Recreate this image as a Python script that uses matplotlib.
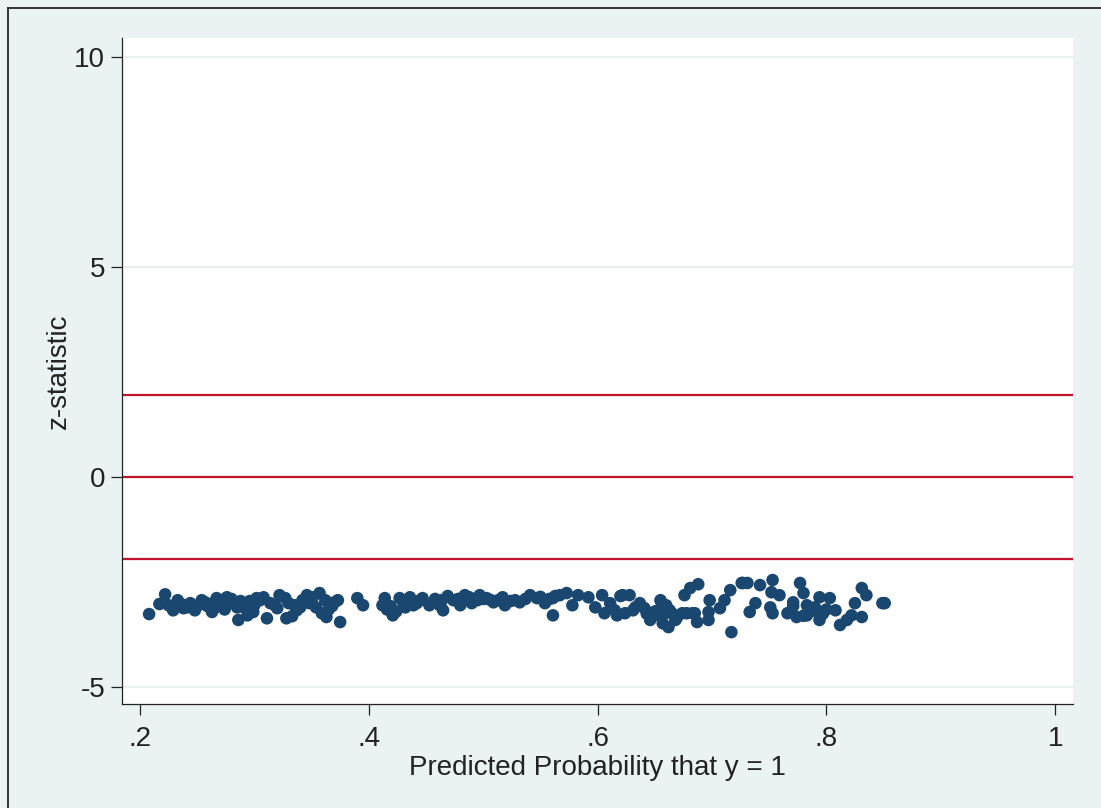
import matplotlib
matplotlib.use("Agg")
import matplotlib.pyplot as plt
from matplotlib.lines import Line2D

plt.rcParams['font.family'] = ['Liberation Sans', 'DejaVu Sans']

# Predicted probability (x) and z-statistic (y)
prob = [
    0.208, 0.217, 0.222, 0.229, 0.233, 0.238, 0.244, 0.248, 0.254, 0.259, 0.263, 0.267,
    0.272, 0.276, 0.279, 0.285, 0.286, 0.294, 0.299, 0.302, 0.305,
    0.225, 0.236, 0.241, 0.251, 0.257, 0.262, 0.265, 0.270, 0.274, 0.280, 0.283, 0.288,
    0.291, 0.296, 0.300,
    0.308, 0.311, 0.318, 0.322, 0.327, 0.328, 0.333, 0.337, 0.342, 0.346, 0.351, 0.357,
    0.359, 0.362, 0.363, 0.368, 0.373, 0.375, 0.390, 0.395, 0.412,
    0.314, 0.320, 0.330, 0.335, 0.340, 0.348, 0.354, 0.365, 0.370,
    0.414, 0.419, 0.421, 0.427, 0.432, 0.436, 0.439, 0.445, 0.447, 0.453, 0.464, 0.465,
    0.469, 0.474, 0.480, 0.484, 0.488, 0.495, 0.497, 0.503, 0.509, 0.513, 0.517,
    0.416, 0.424, 0.430, 0.442, 0.458, 0.462, 0.478, 0.490, 0.500, 0.506,
    0.519, 0.528, 0.532, 0.541, 0.547, 0.554, 0.561, 0.563, 0.567, 0.561, 0.573, 0.578,
    0.583, 0.592, 0.598, 0.604, 0.606, 0.611, 0.615, 0.617, 0.620,
    0.524, 0.537, 0.550, 0.558,
    0.622, 0.628, 0.624, 0.631, 0.637, 0.641, 0.646, 0.655, 0.653, 0.655, 0.659, 0.657,
    0.663, 0.668, 0.662, 0.665, 0.669, 0.674, 0.678, 0.683, 0.685, 0.687, 0.676, 0.681,
    0.688, 0.697, 0.697, 0.698, 0.707, 0.711, 0.716, 0.717, 0.726,
    0.633, 0.643, 0.650, 0.660,
    0.727, 0.731, 0.742, 0.753, 0.752, 0.759, 0.738, 0.733, 0.751, 0.753, 0.766, 0.771,
    0.771, 0.774, 0.777, 0.780, 0.783, 0.783, 0.787, 0.792, 0.794, 0.794, 0.803, 0.808,
    0.812, 0.818, 0.822, 0.825, 0.831, 0.831, 0.835, 0.849, 0.851,
    0.785, 0.790, 0.797, 0.800, 0.780, 0.795,
]
zstat = [
    -3.26, -3.02, -2.79, -3.17, -2.93, -3.12, -3.00, -3.17, -2.93, -3.07, -3.21, -2.88,
    -3.05, -2.86, -3.00, -3.10, -3.40, -3.29, -3.21, -2.88, -2.93,
    -3.05, -3.02, -3.10, -3.05, -2.98, -3.02, -3.12, -2.95, -3.15, -2.90, -3.02, -2.95,
    -3.10, -2.95, -3.05,
    -2.86, -3.36, -3.05, -2.81, -2.88, -3.36, -3.31, -3.17, -2.93, -2.81, -2.86, -2.76,
    -3.24, -2.93, -3.33, -3.07, -2.93, -3.45, -2.88, -3.05, -3.05,
    -3.00, -3.12, -3.00, -3.05, -3.10, -3.00, -3.10, -3.15, -2.98,
    -2.88, -3.07, -3.29, -2.88, -3.10, -2.86, -3.05, -2.93, -2.88, -3.05, -2.93, -3.17,
    -2.83, -2.93, -3.05, -2.81, -2.86, -2.93, -2.81, -2.88, -2.98, -2.93, -2.86,
    -3.15, -3.20, -2.98, -3.00, -2.90, -3.05, -2.90, -3.00, -2.90, -2.92,
    -3.05, -2.93, -2.98, -2.81, -2.88, -3.00, -2.88, -2.83, -2.81, -3.29, -2.76, -3.05,
    -2.81, -2.86, -3.10, -2.81, -3.24, -3.00, -3.17, -3.29, -2.83,
    -2.95, -2.90, -2.85, -2.90,
    -2.81, -2.81, -3.24, -3.17, -3.00, -3.12, -3.40, -2.93, -3.17, -3.31, -3.24, -3.48,
    -3.17, -3.40, -3.57, -3.24, -3.36, -3.24, -3.24, -3.24, -3.24, -3.45, -2.81, -2.64,
    -2.55, -3.21, -3.40, -2.93, -3.12, -2.93, -2.69, -3.69, -2.52,
    -3.10, -3.25, -3.20, -3.05,
    -2.52, -2.52, -2.57, -2.45, -2.74, -2.81, -3.00, -3.21, -3.10, -3.24, -3.24, -2.98,
    -3.07, -3.33, -2.52, -2.76, -3.05, -3.29, -3.17, -3.21, -2.86, -3.40, -2.88, -3.17,
    -3.52, -3.40, -3.29, -3.00, -3.33, -2.64, -2.81, -3.00, -3.00,
    -3.20, -3.10, -3.25, -3.15, -3.30, -3.30,
]
ref_lines = [-1.96, 0, 1.96]
xticks = [0.2, 0.4, 0.6, 0.8, 1.0]
xtick_labels = ['.2', '.4', '.6', '.8', '1']
yticks = [-5, 0, 5, 10]

bg = '#EAF2F3'
fig = plt.figure(figsize=(11.01, 8.08), dpi=100, facecolor=bg)
ax = fig.add_axes([122/1101, 1 - 704/808, (1073-122)/1101, (704-38)/808])
ax.set_facecolor('white')

for y in yticks:
    ax.axhline(y, color='#EAF0F2', lw=1.6, zorder=0)
for y in ref_lines:
    ax.axhline(y, color='#C1122E', lw=1.6, zorder=1)

ax.scatter(prob, zstat, s=82, color='#1A476F', edgecolors='none', zorder=3)

ax.set_xlim(0.1843, 1.0156)
ax.set_ylim(-5.40, 10.45)
ax.set_xticks(xticks)
ax.set_xticklabels(xtick_labels)
ax.set_yticks(yticks)
ax.set_yticklabels([str(v) for v in yticks])

for s in ['top', 'right']:
    ax.spines[s].set_visible(False)
for s in ['left', 'bottom']:
    ax.spines[s].set_color('#222222')
    ax.spines[s].set_linewidth(0.9)

ax.tick_params(axis='both', direction='out', length=8, width=0.9, color='#222222',
               labelsize=20, labelcolor='#222222')
ax.tick_params(axis='x', pad=8)
ax.tick_params(axis='y', pad=4)

ax.set_xlabel('Predicted Probability that y = 1', fontsize=20, color='#222222', labelpad=2)
ax.set_ylabel('z-statistic', fontsize=20, color='#222222', labelpad=2)

# outer border (left and top)
fig.add_artist(Line2D([8/1101, 8/1101], [0, 1 - 8/808], transform=fig.transFigure,
                      color='#333333', lw=1.4))
fig.add_artist(Line2D([8/1101, 1], [1 - 8/808, 1 - 8/808], transform=fig.transFigure,
                      color='#333333', lw=1.4))

fig.savefig('out.png', dpi=100, facecolor=bg)
